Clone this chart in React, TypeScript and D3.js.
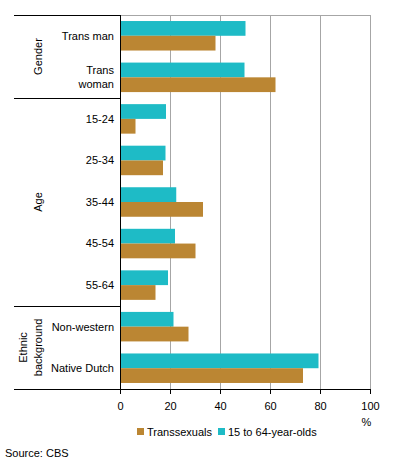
import * as d3 from "d3";

const categories = ["Trans man", "Trans woman", "15-24", "25-34", "35-44", "45-54", "55-64", "Non-western", "Native Dutch"];
const populationValues = [50, 49.6, 18.2, 18, 22.3, 21.8, 19, 21.2, 79.2];
const transValues = [38, 62, 6, 17, 33, 30, 14, 27.2, 73];
const xTicks = [0, 20, 40, 60, 80, 100];
const groups = [
  { lines: ["Gender"], from: 0, to: 1 },
  { lines: ["Age"], from: 2, to: 6 },
  { lines: ["Ethnic", "background"], from: 7, to: 8 },
];
const seriesNames = ["Transsexuals", "15 to 64-year-olds"];

const TEAL = "#1ebbc6";
const BROWN = "#bb8633";
const GRID = "#a6a6a6";
const FONT = "'Liberation Sans', Arial, sans-serif";

export default function App() {
  const width = 396;
  const height = 464;
  const margin = { top: 15, left: 120.5, right: 370.5, bottom: 389 };

  const x = d3.scaleLinear().domain([0, 100]).range([margin.left, margin.right]);
  const y = d3.scaleBand<string>()
    .domain(categories)
    .range([margin.top, margin.bottom])
    .paddingInner(0.29)
    .paddingOuter(0.145);
  const sub = d3.scaleBand<string>().domain(["pop", "trans"]).range([0, y.bandwidth()]);
  const step = y.step();

  const bandEdge = (i: number) => margin.top + i * step;

  return (
    <svg width={width} height={height} style={{ position: "absolute", left: 0, top: 0 }} fontFamily={FONT} fontSize={11}>
      <rect width={width} height={height} fill="#fff" />

      {/* grid */}
      {xTicks.slice(1).map(t => (
        <line key={t} x1={x(t)} x2={x(t)} y1={margin.top} y2={margin.bottom} stroke={GRID} strokeWidth={1} />
      ))}
      <line x1={margin.left} x2={margin.right} y1={margin.top + 0.5} y2={margin.top + 0.5} stroke={GRID} />

      {/* bars */}
      {categories.map((c, i) => (
        <g key={c}>
          <rect x={x(0)} y={y(c)! + sub("pop")!} width={x(populationValues[i]) - x(0)} height={sub.bandwidth()} fill={TEAL} />
          <rect x={x(0)} y={y(c)! + sub("trans")!} width={x(transValues[i]) - x(0)} height={sub.bandwidth()} fill={BROWN} />
        </g>
      ))}

      {/* axes */}
      <line x1={margin.left} x2={margin.left} y1={margin.top} y2={margin.bottom + 5} stroke="#000" />
      <line x1={margin.left} x2={margin.right} y1={margin.bottom + 0.5} y2={margin.bottom + 0.5} stroke="#000" />
      {xTicks.map(t => (
        <g key={t}>
          <line x1={x(t)} x2={x(t)} y1={margin.bottom} y2={margin.bottom + 5} stroke="#000" />
          <text x={x(t)} y={margin.bottom + 21} textAnchor="middle">{t}</text>
        </g>
      ))}
      <text x={x(100) - 4} y={margin.bottom + 37} textAnchor="middle">%</text>

      {/* group separators */}
      {[0, 2, 7, 9].map(i => (
        <line key={i} x1={14} x2={margin.left} y1={Math.round(bandEdge(i)) + 0.5} y2={Math.round(bandEdge(i)) + 0.5} stroke="#000" />
      ))}

      {/* category labels */}
      {categories.map(c => {
        const cy = y(c)! + y.bandwidth() / 2;
        const parts = c === "Trans woman" ? ["Trans", "woman"] : [c];
        return parts.map((p, j) => (
          <text key={c + j} x={114} y={cy + (j - (parts.length - 1) / 2) * 14} dy="0.35em" textAnchor="end">{p}</text>
        ));
      })}

      {/* group labels */}
      {groups.map(g => {
        const cy = (bandEdge(g.from) + bandEdge(g.to + 1)) / 2;
        const xs = g.lines.length === 1 ? [38] : [23, 38];
        return g.lines.map((l, j) => (
          <text key={l} transform={`translate(${xs[j]},${cy}) rotate(-90)`} textAnchor="middle" dy="0.35em">{l}</text>
        ));
      })}

      {/* legend */}
      <rect x={137} y={428} width={7} height={7} fill={BROWN} />
      <text x={147} y={432} dy="0.35em">{seriesNames[0]}</text>
      <rect x={218} y={428} width={7} height={7} fill={TEAL} />
      <text x={228} y={432} dy="0.35em">{seriesNames[1]}</text>

      <text x={5} y={453} dy="0.35em">Source: CBS</text>
    </svg>
  );
}
